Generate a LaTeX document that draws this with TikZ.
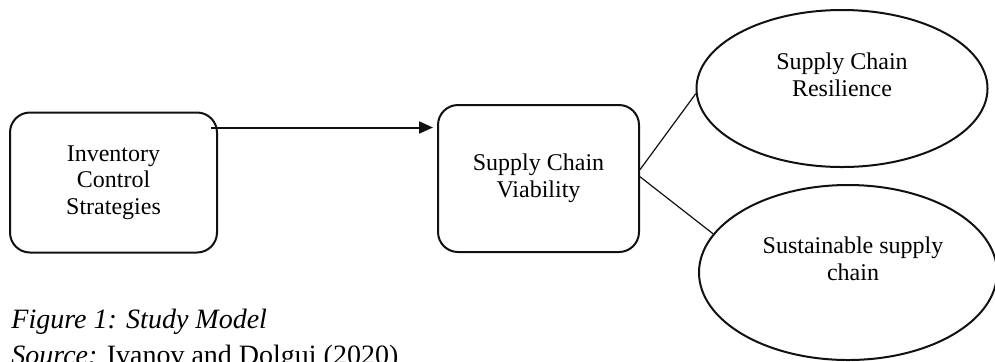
\documentclass[tikz,border=0pt]{standalone}
\usepackage{fontspec}
\setmainfont{Liberation Serif}
\usepackage{xcolor}
\usetikzlibrary{arrows.meta,positioning,shapes.geometric}
\definecolor{ink}{HTML}{111111}
\tikzset{
  roundbox/.style={draw=ink,line width=1pt,rounded corners=10pt,align=center,
                   inner sep=0pt,font=\fontsize{12}{13.3}\selectfont},
  oval/.style={ellipse,draw=ink,line width=1pt,inner sep=0pt},
  ovaltext/.style={align=center,inner sep=0pt,font=\fontsize{12}{13.3}\selectfont},
  linkline/.style={draw=ink,line width=0.6pt},
  mainarr/.style={-{Triangle[length=7pt,width=6pt]},line width=1pt,draw=ink},
  captext/.style={anchor=base west,inner sep=0pt,font=\fontsize{14}{16}\selectfont}
}
\begin{document}
\begin{tikzpicture}[x=0.5pt,y=-0.5pt]
    \path[use as bounding box] (0,0) rectangle (995,361);
    \node[roundbox,minimum width=103.5pt,minimum height=70pt] (inv) at (113.5,182.5)
      {Inventory\\Control\\Strategies};
    \node[roundbox,minimum width=100.5pt,minimum height=73.5pt] (via) at (538.5,178.5)
      {Supply Chain\\Viability};
    \node[oval,minimum width=145.5pt,minimum height=78.5pt,
          label={[ovaltext,yshift=7pt]center:Supply Chain\\Resilience}] (res) at (842,88.5) {};
    \node[oval,minimum width=149pt,minimum height=87.5pt,
          label={[ovaltext,xshift=2.5pt,yshift=7pt]center:Sustainable supply\\chain}] (sus) at (848,272.5) {};
    \coordinate (arrstart) at ([xshift=-3.5pt,yshift=-8pt]inv.north east);
    \draw[mainarr,shorten >=2pt] (arrstart) -- (arrstart -| via.west);
    \draw[linkline] (via.5) -- (res.182);
    \draw[linkline] (via.1.5) -- (sus.164);
    \node[captext] (fig) at (11,328) {\textit{Figure 1: Study Model}};
    \node[captext] (src) at (11,364) {\textit{Source:} Ivanov and Dolgui (2020)};
  \end{tikzpicture}
\end{document}
